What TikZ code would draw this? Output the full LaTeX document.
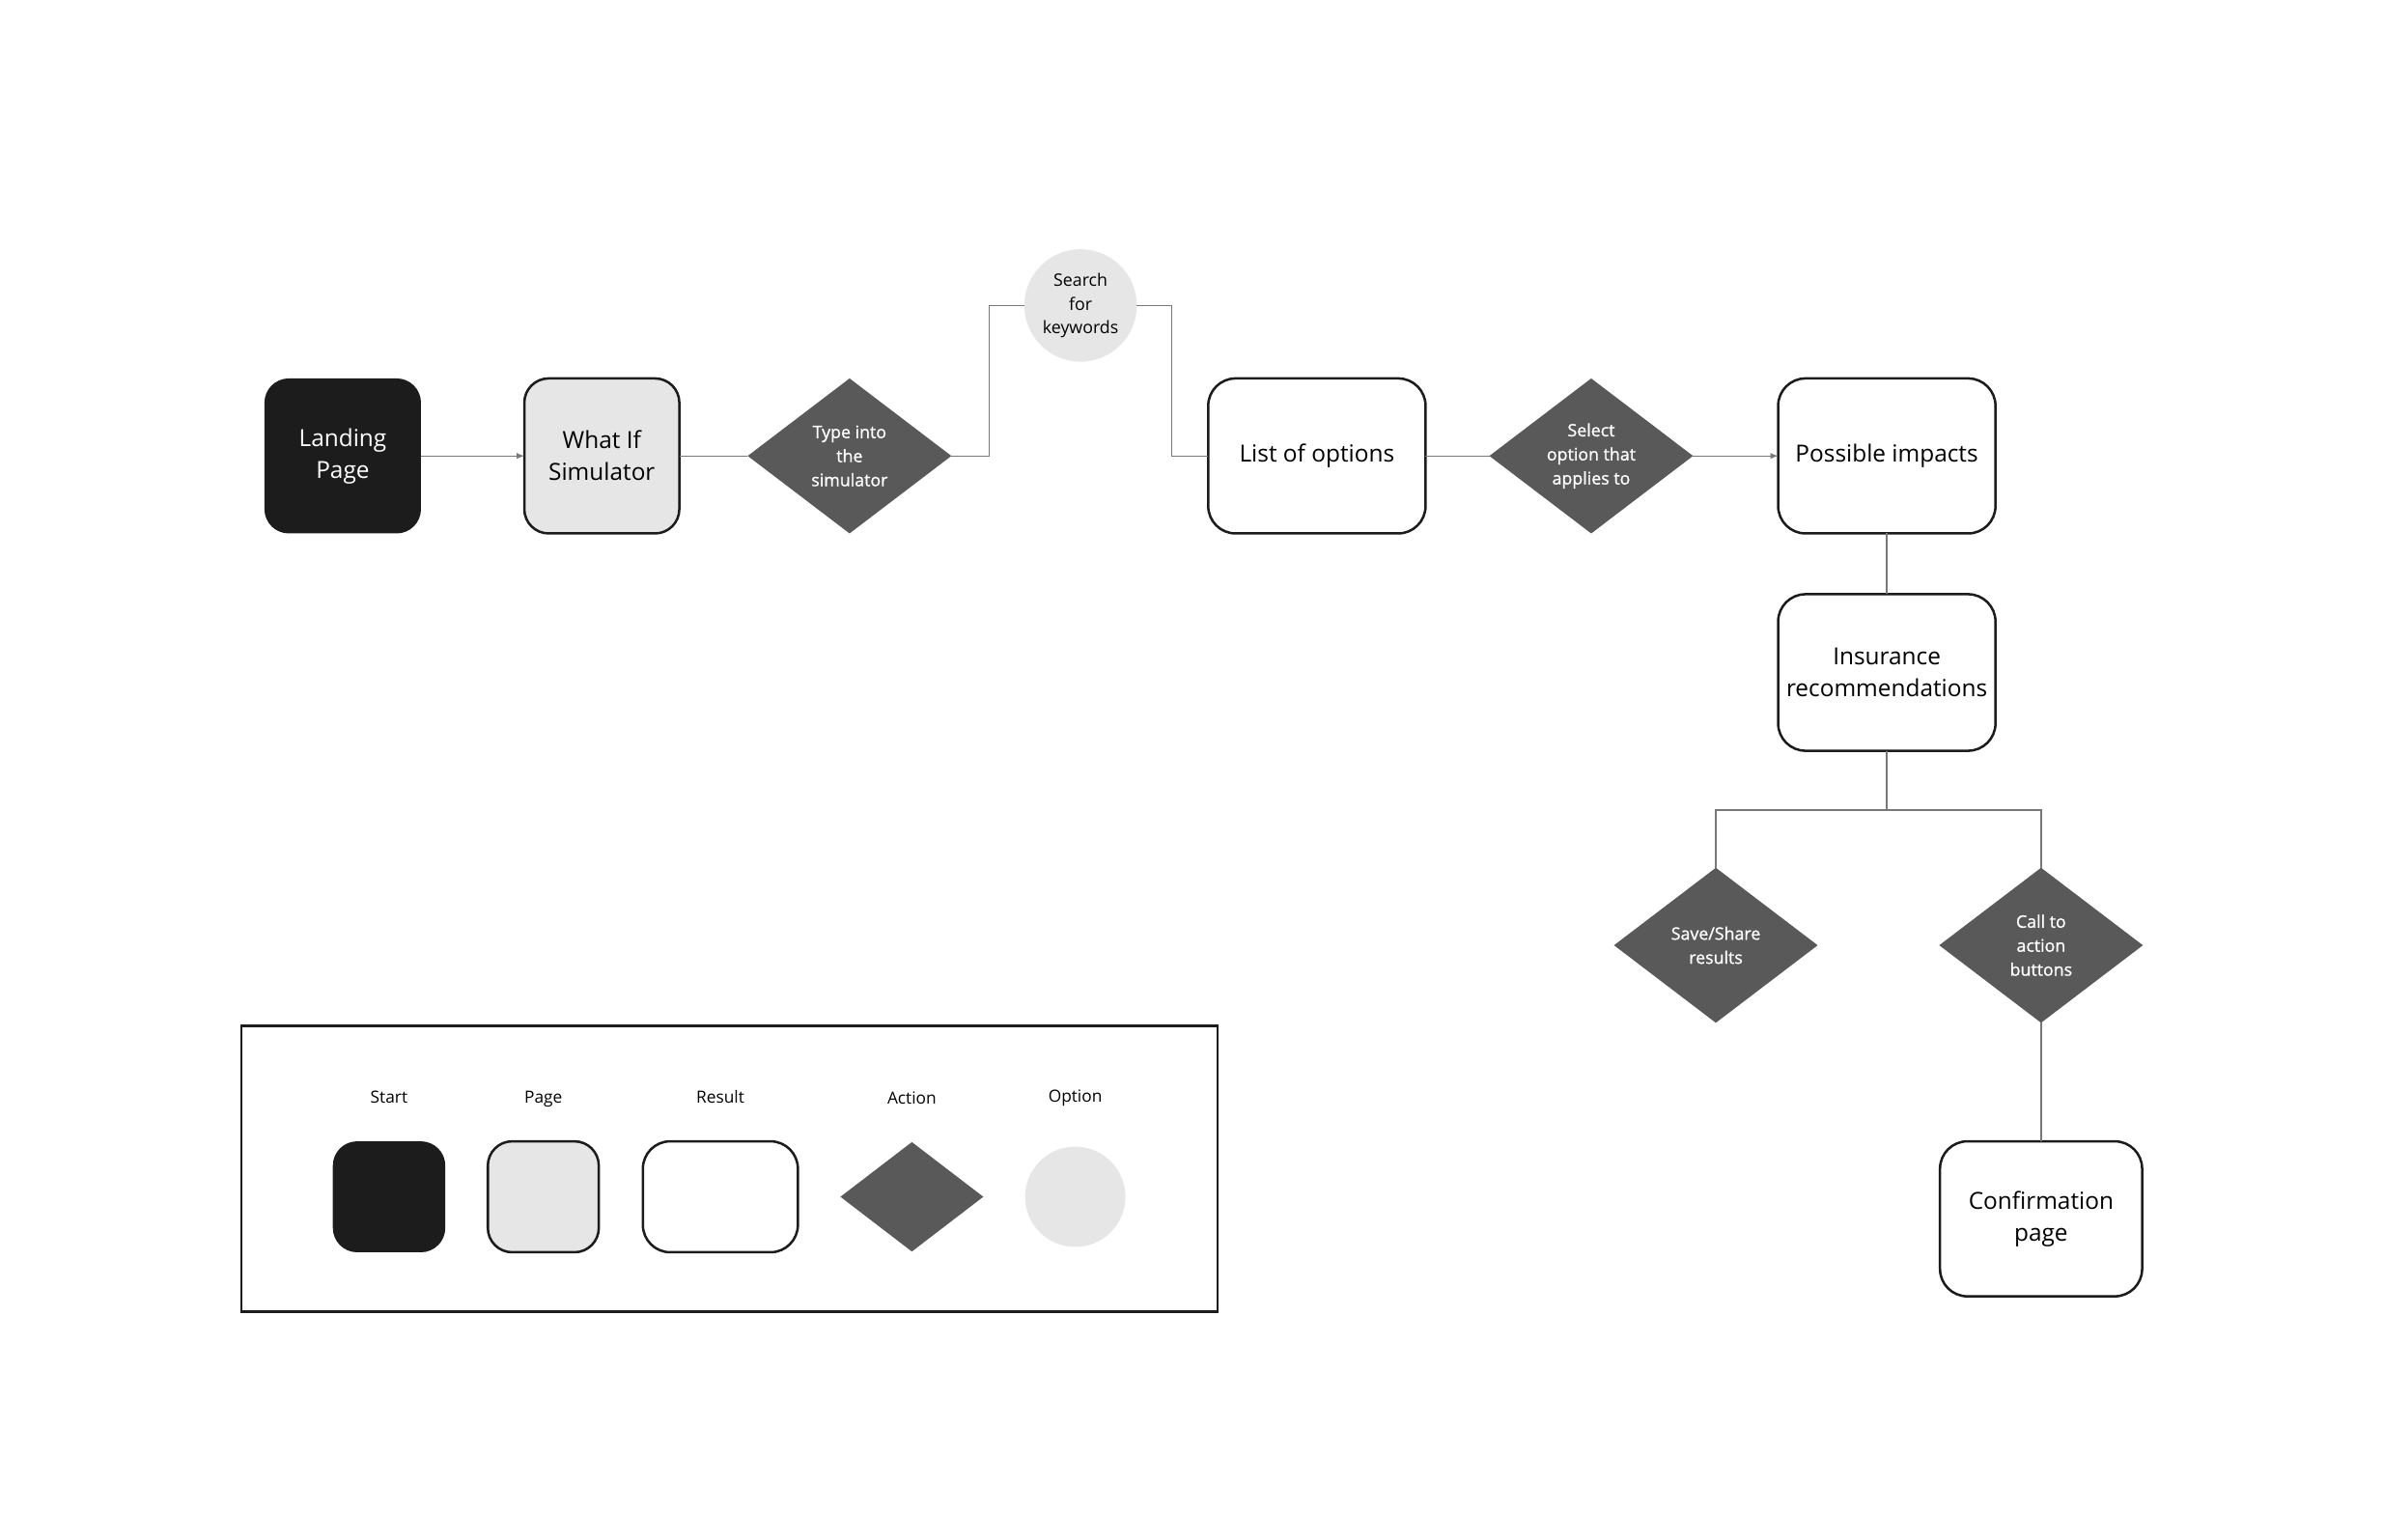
\documentclass[tikz,border=0pt]{standalone}
\usepackage{fontspec}
\setmainfont{Open Sans}
\newfontfamily\actionfont[FakeBold=1]{Open Sans}
\usepackage{tikz}
\usetikzlibrary{arrows.meta,positioning,shapes.geometric}
\definecolor{StartBlack}{RGB}{28,28,28}
\definecolor{PageGray}{RGB}{230,230,230}
\definecolor{ActionGray}{RGB}{89,89,89}
\definecolor{LinkGray}{RGB}{120,120,120}

\tikzset{
  mainfont/.style={font=\fontsize{15.5}{21}\selectfont},
  smallfont/.style={font=\fontsize{11.3}{15.8}\selectfont},
  startbox/.style={rectangle, rounded corners=16pt, fill=StartBlack, text=white, align=center, minimum width=103pt, minimum height=102pt, inner sep=2pt, outer sep=0pt, mainfont},
  pagebox/.style={rectangle, rounded corners=16pt, draw=StartBlack, line width=1.6pt, fill=PageGray, align=center, minimum width=102pt, minimum height=102pt, inner sep=2pt, outer sep=0pt, mainfont},
  resultbox/.style={rectangle, rounded corners=18pt, draw=StartBlack, line width=1.6pt, fill=white, align=center, minimum width=143pt, minimum height=102pt, inner sep=2pt, outer sep=0pt, mainfont},
  actiondiamond/.style={diamond, fill=ActionGray, text=white, align=center, minimum width=134pt, minimum height=102pt, inner sep=0pt, outer sep=0pt, font=\fontsize{11.3}{15.8}\actionfont},
  optioncircle/.style={circle, fill=PageGray, align=center, minimum size=74pt, inner sep=0pt, outer sep=0pt, smallfont},
  legendframe/.style={rectangle, draw=StartBlack, line width=1.5pt, minimum width=642pt, minimum height=188pt},
  legendlabel/.style={font=\fontsize{11}{13}\selectfont, text height=8.5pt, text depth=2.5pt},
  link/.style={draw=LinkGray, line width=0.8pt},
  flow/.style={link, -{Latex[length=5pt,width=4pt]}}
}

\begin{document}
\begin{tikzpicture}[node distance=40pt]
    \useasboundingbox (0pt,0pt) rectangle (1568pt,-1013pt);

    % main row
    \node [startbox] (land) at (225.5pt,-300pt) {Landing\\Page};
    \node [pagebox, right=68pt of land] (whatif) {What If\\Simulator};
    \node [actiondiamond, right=45pt of whatif] (typein) {Type into\\the\\simulator};
    \node [resultbox, right=169pt of typein] (options) {List of options};
    \node [optioncircle] (search) at (711pt,-201pt) {Search\\for\\keywords};
    \node [actiondiamond, right=42pt of options] (select) {Select\\option that\\applies to};
    \node [resultbox, right=56pt of select] (impacts) {Possible impacts};

    % right column
    \node [resultbox, minimum height=103pt, below=40pt of impacts] (insurance) {Insurance\\recommendations};
    \node [actiondiamond, below=77pt of insurance, xshift=-112.5pt] (save) {Save/Share\\results};
    \node [actiondiamond, below=77pt of insurance, xshift=101.5pt] (cta) {Call to\\action\\buttons};
    \node [resultbox, minimum width=133pt, below=78pt of cta] (confirm) {Confirmation\\page};

    \draw [flow] (land) -- (whatif);
    \draw [link] (whatif) -- (typein);
    \draw [link] (typein.east) -- ++(25pt,0) |- (search.west);
    \draw [link] (search.east) -- ++(23pt,0) |- (options.west);
    \draw [link] (options) -- (select);
    \draw [flow] (select) -- (impacts);
    \draw [link] (impacts) -- (insurance);
    \draw [link] (insurance.south) -- ++(0,-39pt) -| (save.north);
    \draw [link] (insurance.south) -- ++(0,-39pt) -| (cta.north);
    \draw [link] (cta) -- (confirm);

    % legend
    \node [legendframe] (legend) at (480pt,-769pt) {};
    \node [startbox, minimum width=74pt, minimum height=73pt] (keystart) at (256pt,-787.5pt) {};
    \node [pagebox, minimum width=73pt, minimum height=73pt] (keypage) at (357.5pt,-787.5pt) {};
    \node [resultbox, minimum width=102pt, minimum height=73pt] (keyresult) at (474pt,-787.5pt) {};
    \node [actiondiamond, minimum width=94pt, minimum height=72pt] (keyaction) at (600pt,-787.5pt) {};
    \node [optioncircle, minimum size=66pt] (keyoption) at (707.5pt,-787.5pt) {};
    \node [legendlabel, above=19pt of keystart] {Start};
    \node [legendlabel, above=19pt of keypage] {Page};
    \node [legendlabel, above=19pt of keyresult] {Result};
    \node [legendlabel, above=19pt of keyaction] {Action};
    \node [legendlabel, above=23pt of keyoption] {Option};
\end{tikzpicture}
\end{document}
